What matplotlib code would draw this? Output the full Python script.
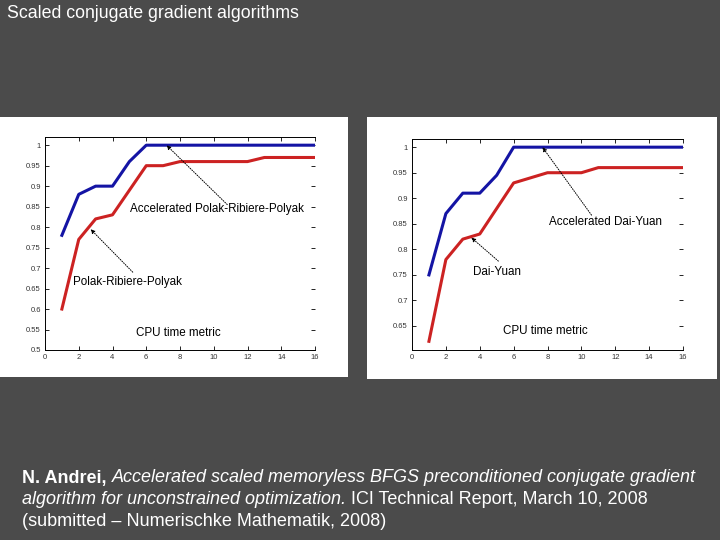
import matplotlib
matplotlib.use("Agg")
import matplotlib.pyplot as plt
from matplotlib.patches import Rectangle

plt.rcParams['font.family'] = ['Liberation Sans', 'DejaVu Sans']

# Data
x_vals = list(range(1, 17))

prp_acc = [0.78, 0.88, 0.90, 0.90, 0.96, 1.00, 1.00, 1.00, 1.00, 1.00, 1.00, 1.00, 1.00, 1.00, 1.00, 1.00]
prp = [0.60, 0.77, 0.82, 0.83, 0.89, 0.95, 0.95, 0.96, 0.96, 0.96, 0.96, 0.96, 0.97, 0.97, 0.97, 0.97]

dy_acc = [0.75, 0.87, 0.91, 0.91, 0.945, 1.00, 1.00, 1.00, 1.00, 1.00, 1.00, 1.00, 1.00, 1.00, 1.00, 1.00]
dy = [0.62, 0.78, 0.82, 0.83, 0.88, 0.93, 0.94, 0.95, 0.95, 0.95, 0.96, 0.96, 0.96, 0.96, 0.96, 0.96]

left_yticks = [0.5, 0.55, 0.6, 0.65, 0.7, 0.75, 0.8, 0.85, 0.9, 0.95, 1]
right_yticks = [0.65, 0.7, 0.75, 0.8, 0.85, 0.9, 0.95, 1]
xticks = [0, 2, 4, 6, 8, 10, 12, 14, 16]

BG = '#4b4b4b'
BLUE = '#1414a4'
RED = '#cc2222'

fig = plt.figure(figsize=(7.2, 5.4), dpi=100)
fig.patch.set_facecolor(BG)

W, H = 720.0, 540.0


def px_rect(x0, y0, x1, y1):
    # pixel box (top-left origin) -> figure fraction rect
    return [x0 / W, 1 - y1 / H, (x1 - x0) / W, (y1 - y0) / H]


# white panels behind the plots
for (x0, y0, x1, y1) in [(0, 117, 348, 377), (367, 117, 717, 379)]:
    r = px_rect(x0, y0, x1, y1)
    fig.patches.append(Rectangle((r[0], r[1]), r[2], r[3], transform=fig.transFigure,
                                 facecolor='white', edgecolor='none', zorder=-5))


def style_axes(ax, yticks, ylim):
    ax.set_zorder(2)
    ax.set_facecolor('white')
    ax.set_xlim(0, 16)
    ax.set_ylim(*ylim)
    ax.set_xticks(xticks)
    ax.set_yticks(yticks)
    ax.set_yticklabels([f"{v:g}" for v in yticks])
    ax.tick_params(direction='in', length=3, width=0.6, labelsize=5.5,
                   labelcolor='#333333', top=True, right=True, pad=3)
    for s in ['left', 'bottom', 'top']:
        ax.spines[s].set_linewidth(0.7)
    ax.spines['right'].set_visible(False)


arrow = dict(arrowstyle='-|>', linestyle=(0, (1, 1.5)), color='black', lw=0.7,
             mutation_scale=6, shrinkA=0, shrinkB=0)

# left chart
ax1 = fig.add_axes(px_rect(45, 137, 315, 350))
ax1.plot(x_vals, prp_acc, color=BLUE, lw=2.2)
ax1.plot(x_vals, prp, color=RED, lw=2.2)
style_axes(ax1, left_yticks, (0.5, 1.02))
ax1.text(10.2, 0.845, 'Accelerated Polak-Ribiere-Polyak', fontsize=8.4, ha='center', va='center')
ax1.annotate('', xy=(7.2, 1.0), xytext=(10.8, 0.855), arrowprops=arrow)
ax1.text(4.9, 0.667, 'Polak-Ribiere-Polyak', fontsize=8.4, ha='center', va='center')
ax1.annotate('', xy=(2.7, 0.795), xytext=(5.2, 0.69), arrowprops=arrow)
ax1.text(7.9, 0.541, 'CPU time metric', fontsize=8.4, ha='center', va='center')

# right chart
ax2 = fig.add_axes(px_rect(412, 139, 683, 350))
ax2.plot(x_vals, dy_acc, color=BLUE, lw=2.2)
ax2.plot(x_vals, dy, color=RED, lw=2.2)
style_axes(ax2, right_yticks, (0.603, 1.016))
ax2.text(11.4, 0.853, 'Accelerated Dai-Yuan', fontsize=8.4, ha='center', va='center')
ax2.annotate('', xy=(7.7, 1.0), xytext=(10.6, 0.867), arrowprops=arrow)
ax2.text(5.0, 0.756, 'Dai-Yuan', fontsize=8.4, ha='center', va='center')
ax2.annotate('', xy=(3.5, 0.823), xytext=(5.1, 0.777), arrowprops=arrow)
ax2.text(7.9, 0.64, 'CPU time metric', fontsize=8.4, ha='center', va='center')

# slide title
fig.text(7 / W, 1 - 14 / H, 'Scaled conjugate gradient algorithms', color='white',
         fontsize=12.8, ha='left', va='center')

# citation lines, built from styled pieces
renderer = fig.canvas.get_renderer()


def chain(parts, x_px, y_px):
    x = x_px / W
    for s, fstyle, fweight in parts:
        t = fig.text(x, 1 - y_px / H, s, color='white', fontsize=13, style=fstyle,
                     weight=fweight, ha='left', va='center')
        bb = t.get_window_extent(renderer)
        x = bb.x1 / W


chain([('N. Andrei, ', 'normal', 'bold'),
       ('Accelerated scaled memoryless BFGS preconditioned conjugate gradient', 'italic', 'normal')],
      22, 478)
chain([('algorithm for unconstrained optimization.', 'italic', 'normal'),
       (' ICI Technical Report, March 10, 2008', 'normal', 'normal')],
      22, 500)
chain([('(submitted \u2013 Numerischke Mathematik, 2008)', 'normal', 'normal')], 22, 522)

fig.savefig('out.png', dpi=100, facecolor=BG)
